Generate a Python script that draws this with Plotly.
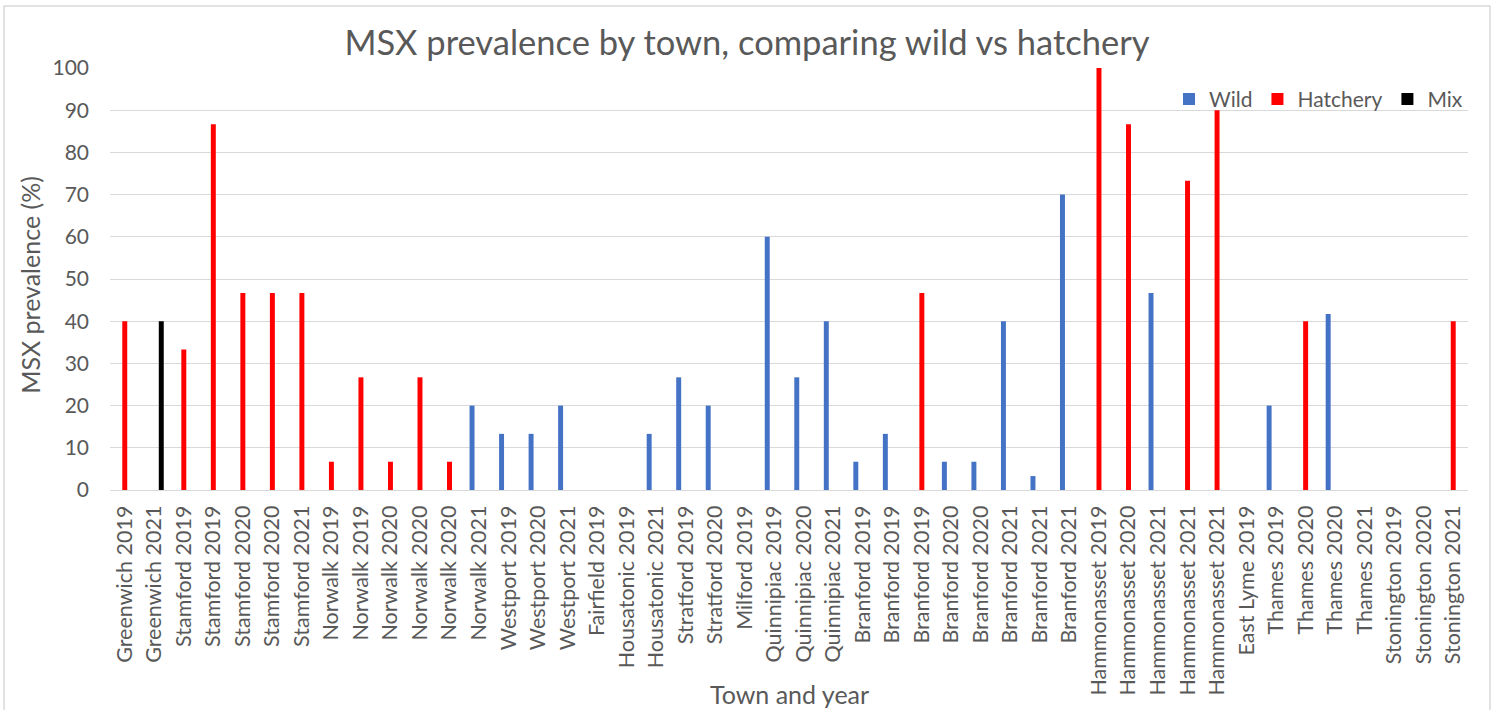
import plotly.graph_objects as go

# Town/year sampling sites along the coast (repeats are separate samples)
sites = [
    "Greenwich 2019", "Greenwich 2021", "Stamford 2019", "Stamford 2019",
    "Stamford 2020", "Stamford 2020", "Stamford 2021", "Norwalk 2019",
    "Norwalk 2019", "Norwalk 2020", "Norwalk 2020", "Norwalk 2020",
    "Norwalk 2021", "Westport 2019", "Westport 2020", "Westport 2021",
    "Fairfield 2019", "Housatonic 2019", "Housatonic 2021", "Stratford 2019",
    "Stratford 2020", "Milford 2019", "Quinnipiac 2019", "Quinnipiac 2020",
    "Quinnipiac 2021", "Branford 2019", "Branford 2019", "Branford 2019",
    "Branford 2020", "Branford 2020", "Branford 2021", "Branford 2021",
    "Branford 2021", "Hammonasset 2019", "Hammonasset 2020", "Hammonasset 2021",
    "Hammonasset 2021", "Hammonasset 2021", "East Lyme 2019", "Thames 2019",
    "Thames 2020", "Thames 2020", "Thames 2021", "Stonington 2019",
    "Stonington 2020", "Stonington 2021",
]

# MSX prevalence (%) per sample, split by oyster origin
wild = [
    None, None, None, None, None, None, None, None, None, None, None, None,
    20, 13.3, 13.3, 20, 0, 0, 13.3, 26.7, 20, 0, 60, 26.7, 40, 6.7, 13.3, None,
    6.7, 6.7, 40, 3.3, 70, None, None, 46.7, None, None, 0, 20, None, 41.7,
    0, 0, 0, None,
]
hatchery = [
    40, None, 33.3, 86.7, 46.7, 46.7, 46.7, 6.7, 26.7, 6.7, 26.7, 6.7,
    None, None, None, None, None, None, None, None, None, None, None, None,
    None, None, None, 46.7, None, None, None, None, None, 100, 86.7, None,
    73.3, 90, None, None, 40, None, None, None, None, 40,
]
mix = [None, 40] + [None] * 44

y_ticks = list(range(0, 101, 10))

xpos = list(range(len(sites)))
text_color = "#595959"
font_family = "Lato, Calibri, Carlito, sans-serif"

fig = go.Figure()
for name, vals, color in [
    ("Wild", wild, "#4472C4"),
    ("Hatchery", hatchery, "#FF0000"),
    ("Mix", mix, "#000000"),
]:
    fig.add_trace(go.Bar(
        name=name, x=xpos, y=vals, marker=dict(color=color, line=dict(width=0)),
    ))

fig.update_layout(
    width=1497, height=710,
    paper_bgcolor="white", plot_bgcolor="white",
    barmode="group", bargap=0.29, bargroupgap=0.29,
    margin=dict(l=110, r=29, t=68, b=220),
    font=dict(family=font_family, color=text_color, size=20),
    title=dict(
        text="MSX prevalence by town, comparing wild vs hatchery",
        x=0.499, xanchor="center", y=0.94, yanchor="middle",
        font=dict(size=34.5, color=text_color),
    ),
    legend=dict(
        orientation="h", x=1.0, xanchor="right", y=0.926, yanchor="middle",
        font=dict(size=21, color=text_color), bgcolor="rgba(0,0,0,0)",
        itemwidth=30, traceorder="normal",
    ),
    xaxis=dict(
        range=[-0.5, len(sites) - 0.5],
        tickmode="array", tickvals=xpos, ticktext=sites,
        tickangle=-90, tickfont=dict(size=21.5, color=text_color),
        showgrid=False, zeroline=False, automargin=False,
        showline=True, linecolor="#d9d9d9", linewidth=1,
        ticks="", ticklabelstandoff=6,
    ),
    yaxis=dict(
        range=[0, 100], tickmode="array", tickvals=y_ticks,
        tickfont=dict(size=21, color=text_color), automargin=False,
        showgrid=True, gridcolor="#d9d9d9", gridwidth=1,
        zeroline=False, showline=False, ticks="", ticklabelstandoff=20,
    ),
)

# Axis titles placed explicitly
fig.add_annotation(
    text="Town and year", xref="paper", yref="paper", x=0.5, y=-0.484,
    xanchor="center", yanchor="middle", showarrow=False,
    font=dict(size=25, color=text_color),
)
fig.add_annotation(
    text="MSX prevalence (%)", xref="paper", yref="paper", x=-0.059, y=0.486,
    xanchor="center", yanchor="middle", textangle=-90, showarrow=False,
    font=dict(size=25, color=text_color),
)

# Light frame around the whole chart
fig.add_shape(
    type="rect", xref="paper", yref="paper",
    x0=-0.078, x1=1.0162, y0=-0.56, y1=1.147,
    line=dict(color="#d9d9d9", width=1.5), fillcolor="rgba(0,0,0,0)", layer="below",
)

fig.write_html("out.html")
